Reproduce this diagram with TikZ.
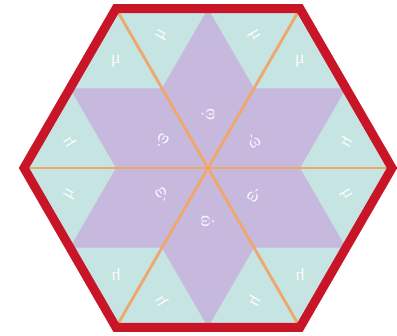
\documentclass[tikz,border=0pt]{standalone}
\usepackage{fontspec}
\newfontfamily\grk{Liberation Serif}
\usetikzlibrary{calc}
\definecolor{tealbg}{RGB}{198,228,226}
\definecolor{starpur}{RGB}{199,184,221}
\definecolor{rayor}{RGB}{238,168,108}
\definecolor{rimred}{RGB}{200,22,40}
\tikzset{
  lab/.style={text=white,text opacity=0.9,font=\grk\fontsize{18}{18}\selectfont,inner sep=0pt},
  ray/.style={draw=rayor,line width=2.8pt},
  rim/.style={draw=rimred,line width=9pt,line join=miter}
}
\begin{document}
\begin{tikzpicture}[x=1pt,y=1pt]
\def\HR{184}
\def\HA{159.35}
\def\HI{92}
\useasboundingbox (-208,-168) rectangle (189,168);
\coordinate (O) at (0,0);
\foreach \v in {0,60,...,300}{\coordinate (V\v) at (\v:\HR);}
% teal hexagon
\fill[tealbg] (V0)--(V60)--(V120)--(V180)--(V240)--(V300)--cycle;
% purple star
\fill[starpur] (30:\HA)--(60:\HI)--(90:\HA)--(120:\HI)--(150:\HA)--(180:\HI)
  --(210:\HA)--(240:\HI)--(270:\HA)--(300:\HI)--(330:\HA)--(0:\HI)--cycle;
% rays
\foreach \v in {0,60,...,300}{\draw[ray] (O)--(V\v);}
% omega labels
\foreach \a in {30,90,...,330}{
  \node[lab,rotate=\a] (w\a) at (\a:53.1) {ώ};
}
% mu labels
\foreach \v in {0,60,...,300}{
  \pgfmathsetmacro\ra{\v-120}
  \pgfmathsetmacro\rb{\v-60}
  \pgfmathsetmacro\pa{\v+30}
  \pgfmathsetmacro\pb{\v-30}
  \node[lab,rotate=\ra] (ma\v) at ($0.3333*(\v:\HR)+0.3333*(\v:\HI)+0.3333*(\pa:\HA)$) {μ};
  \node[lab,rotate=\rb] (mb\v) at ($0.3333*(\v:\HR)+0.3333*(\v:\HI)+0.3333*(\pb:\HA)$) {μ};
}
% red rim
\draw[rim] (V0)--(V60)--(V120)--(V180)--(V240)--(V300)--cycle;
\end{tikzpicture}
\end{document}
